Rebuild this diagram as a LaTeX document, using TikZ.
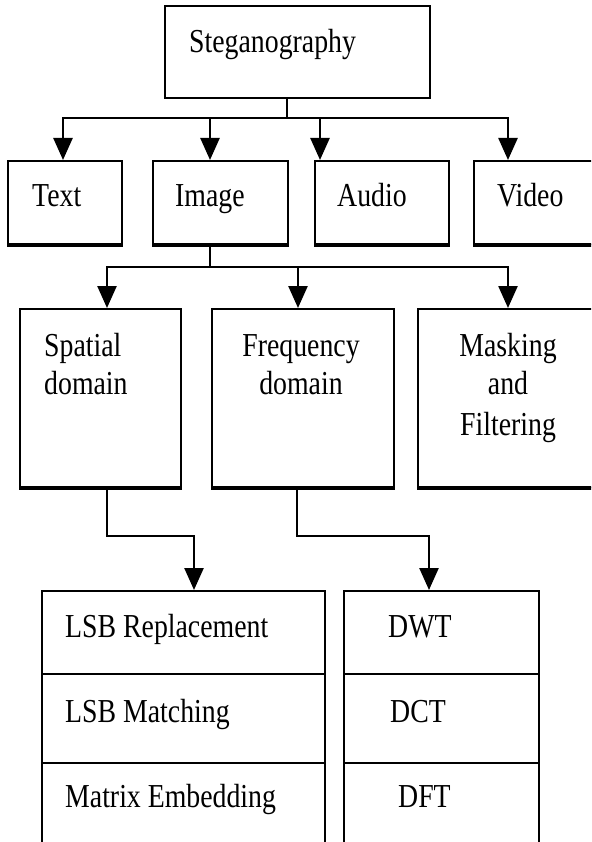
\documentclass[tikz,border=0pt]{standalone}
\usepackage{fontspec}
\setmainfont{Liberation Serif}[FakeStretch=0.83]
\usetikzlibrary{arrows.meta}
\begin{document}
\begin{tikzpicture}[x=1pt,y=-1pt,
  box/.style={draw, line width=2pt, inner sep=0pt, anchor=north west},
  lbl/.style={inner sep=0pt, font=\fontsize{33.5}{39}\selectfont},
  conn/.style={line width=2.5pt},
  arr/.style={conn, -{Triangle[length=22pt,width=19pt]}},
  thickbottom/.style={line width=3pt}]
\useasboundingbox (0,0) rectangle (591,842);
\clip (0,0) rectangle (591,842);
\fill[white] (0,0) rectangle (591,842);

% boxes
\node[box, minimum width=265pt, minimum height=92pt] (steg) at (164,5) {};
\node[box, minimum width=114pt, minimum height=83pt] (txt) at (7,160) {};
\node[box, minimum width=135pt, minimum height=83pt] (img) at (152,160) {};
\node[box, minimum width=134pt, minimum height=83pt] (aud) at (314,160) {};
\node[box, minimum width=140pt, minimum height=83pt] (vid) at (473,160) {};
\node[box, minimum width=161pt, minimum height=178pt] (spat) at (19,308) {};
\node[box, minimum width=182pt, minimum height=178pt] (freq) at (211,308) {};
\node[box, minimum width=190pt, minimum height=178pt] (mask) at (417,308) {};
\node[box, minimum width=283pt, minimum height=83pt] (lsba) at (41,590) {};
\node[box, minimum width=283pt, minimum height=89pt] (lsbb) at (41,673) {};
\node[box, minimum width=283pt, minimum height=95pt] (lsbc) at (41,762) {};
\node[box, minimum width=195pt, minimum height=83pt] (dwt) at (343,590) {};
\node[box, minimum width=195pt, minimum height=89pt] (dct) at (343,673) {};
\node[box, minimum width=195pt, minimum height=95pt] (dft) at (343,762) {};

\foreach \b in {txt,img,aud,vid,spat,freq,mask}
  \draw[thickbottom] (\b.south west) -- (\b.south east);

% labels
\node[lbl, anchor=base west] (lsteg) at (189,53) {Steganography};
\node[lbl, anchor=base west] (ltxt) at (32,207) {Text};
\node[lbl, anchor=base west] (limg) at (175,207) {Image};
\node[lbl, anchor=base west] (laud) at (337,207) {Audio};
\node[lbl, anchor=base west] (lvid) at (497,207) {Video};
\node[lbl, anchor=base west] (lspat1) at (44,356) {Spatial};
\node[lbl, anchor=base west] (lspat2) at (44,394) {domain};
\node[lbl, anchor=base] (lfreq1) at (301,356) {Frequency};
\node[lbl, anchor=base] (lfreq2) at (301,394) {domain};
\node[lbl, anchor=base] (lmask1) at (508,356) {Masking};
\node[lbl, anchor=base] (lmask2) at (508,394) {and};
\node[lbl, anchor=base] (lmask3) at (508,435) {Filtering};
\node[lbl, anchor=base west] (llsba) at (65,637) {LSB Replacement};
\node[lbl, anchor=base west] (llsbb) at (65,722) {LSB Matching};
\node[lbl, anchor=base west] (llsbc) at (65,807) {Matrix Embedding};
\node[lbl, anchor=base west] (ldwt) at (388,637) {DWT};
\node[lbl, anchor=base west] (ldct) at (390,722) {DCT};
\node[lbl, anchor=base west] (ldft) at (398,807) {DFT};

% first level connectors
\coordinate (b1) at (287,118);
\coordinate (tA) at (63,118);
\coordinate (iA) at (210,118);
\coordinate (aA) at (320,118);
\coordinate (vA) at (508,118);
\draw[conn] (b1 |- steg.south) -- (b1);
\draw[arr] (b1) -| (tA |- txt.north);
\draw[arr] (b1) -| (vA |- vid.north);
\draw[arr] (iA) -- (iA |- img.north);
\draw[arr] (aA) -- (aA |- aud.north);

% second level connectors
\coordinate (b2) at (210,267);
\coordinate (sA) at (107,267);
\coordinate (fA) at (298,267);
\coordinate (mA) at (508,267);
\draw[conn] (b2 |- img.south) -- (b2);
\draw[arr] (b2) -| (sA |- spat.north);
\draw[arr] (b2) -| (mA |- mask.north);
\draw[arr] (fA) -- (fA |- freq.north);

% third level connectors
\coordinate (e1) at (107,536);
\coordinate (e1b) at (194,536);
\coordinate (e2) at (297,536);
\coordinate (e2b) at (429,536);
\draw[arr] (e1 |- spat.south) -- (e1) -- (e1b) -- (e1b |- lsba.north);
\draw[arr] (e2 |- freq.south) -- (e2) -- (e2b) -- (e2b |- dwt.north);
\end{tikzpicture}
\end{document}
